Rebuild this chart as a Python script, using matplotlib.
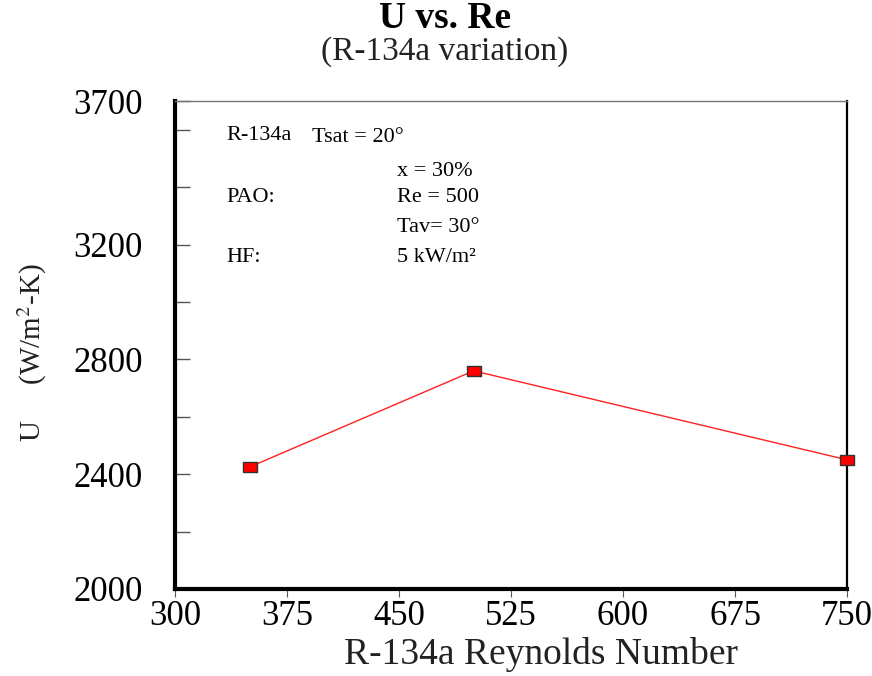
import matplotlib
matplotlib.use("Agg")
import matplotlib.pyplot as plt
from matplotlib.path import Path
from matplotlib.ticker import FixedLocator, FixedFormatter

plt.rcParams['font.family'] = ['Liberation Serif', 'DejaVu Serif']
plt.rcParams['mathtext.fontset'] = 'stix'

# Data: overall heat transfer coefficient vs. R-134a Reynolds number
reynolds = [350, 500, 750]
u_values = [2425, 2760, 2450]

x_ticks = [300, 375, 450, 525, 600, 675, 750]
y_ticks = [2000, 2200, 2400, 2600, 2800, 3000, 3200, 3400, 3600, 3700]
y_labels = ['2000', '', '2400', '', '2800', '', '3200', '', '', '3700']

fig = plt.figure(figsize=(8.72, 6.76), dpi=100)
ax = fig.add_axes([175/872, 1-589/676, (847-175)/872, (589-101)/676])

# Slightly wide rectangular marker
rect = Path([(-1, -0.78), (1, -0.78), (1, 0.78), (-1, 0.78), (-1, -0.78)],
            [Path.MOVETO, Path.LINETO, Path.LINETO, Path.LINETO, Path.CLOSEPOLY])

ax.plot(reynolds, u_values, color='#ff2020', lw=1.0, marker=rect,
        markersize=9.5, markerfacecolor='#ff0000', markeredgecolor='#333333',
        markeredgewidth=1.0, clip_on=False, zorder=5)

ax.set_xlim(300, 750)
ax.set_ylim(2000, 3700)

ax.set_xticks(x_ticks)
ax.set_xticklabels([str(v) for v in x_ticks])
ax.tick_params(axis='x', direction='out', length=6, width=0.8, color='#555555',
               labelsize=25, pad=2)

# Inward ticks every 200 on the U axis, labels only at selected values
ax.yaxis.set_major_locator(FixedLocator(y_ticks))
ax.yaxis.set_major_formatter(FixedFormatter(y_labels))
ax.tick_params(axis='y', which='major', direction='in', length=11, width=1.0,
               color='#555555', labelsize=25, pad=23)

for side, lw, col in [('left', 3.0, 'black'), ('bottom', 3.0, 'black'),
                      ('right', 1.6, 'black'), ('top', 1.0, '#777777')]:
    ax.spines[side].set_linewidth(lw)
    ax.spines[side].set_color(col)

ax.set_xlabel('R-134a Reynolds Number', fontsize=27, color='#222222')
ax.xaxis.set_label_coords((541-175)/672, (589-655)/488)
ax.xaxis.label.set_va('center')

ax.set_ylabel('U     (W/m$^2$-K)', fontsize=21, color='#222222')
ax.yaxis.set_label_coords((32-175)/672, (589-353)/488)
ax.yaxis.label.set_va('center')

# Test-condition annotations
ann_fs = 16
def px(x, y):
    return ((x-175)/672, (589-y)/488)

ax.text(*px(226, 136), 'R-134a', transform=ax.transAxes, fontsize=ann_fs, va='center', ha='left')
ax.text(*px(312, 138), 'Tsat = 20°', transform=ax.transAxes, fontsize=ann_fs, va='center', ha='left')
ax.text(*px(397, 172), 'x = 30%', transform=ax.transAxes, fontsize=ann_fs, va='center', ha='left')
ax.text(*px(226, 198), 'PAO:', transform=ax.transAxes, fontsize=ann_fs, va='center', ha='left')
ax.text(*px(397, 198), 'Re = 500', transform=ax.transAxes, fontsize=ann_fs, va='center', ha='left')
ax.text(*px(397, 228), 'Tav= 30°', transform=ax.transAxes, fontsize=ann_fs, va='center', ha='left')
ax.text(*px(226, 257), 'HF:', transform=ax.transAxes, fontsize=ann_fs, va='center', ha='left')
ax.text(*px(397, 257), '5 kW/m²', transform=ax.transAxes, fontsize=ann_fs, va='center', ha='left')

fig.text(445/872, 1-19/676, 'U vs. Re', fontsize=27, fontweight='bold',
         ha='center', va='center')
fig.text(445/872, 1-52/676, '(R-134a variation)', fontsize=24, color='#222222',
         ha='center', va='center')

fig.savefig('out.png', dpi=100)
